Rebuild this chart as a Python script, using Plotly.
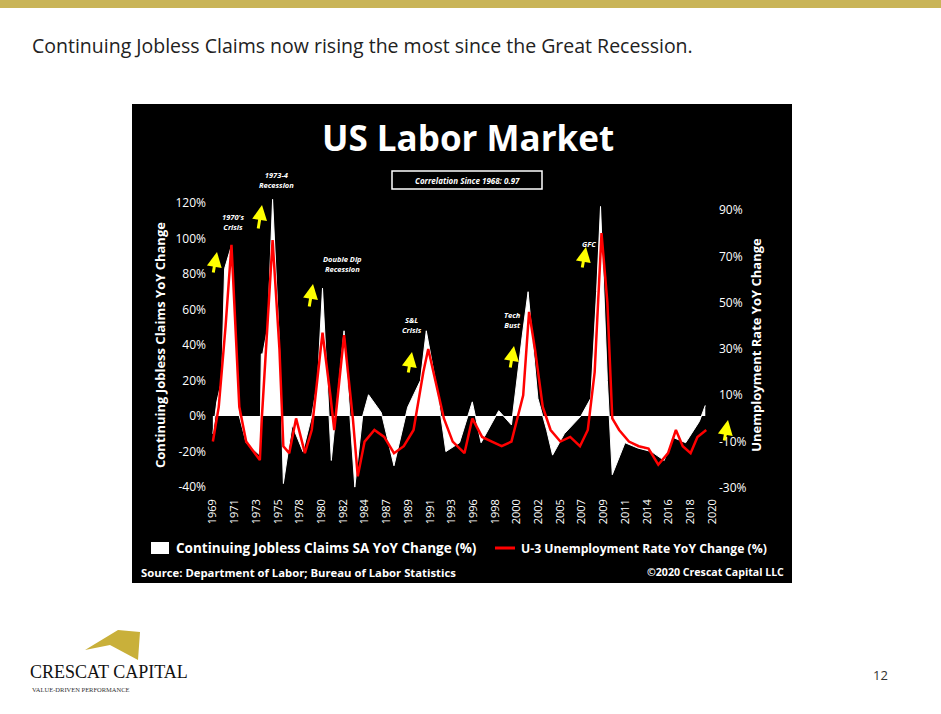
import plotly.graph_objects as go

W, H = 941, 714

# Continuing jobless claims SA YoY change (%), left axis
claims_t = [1969.0, 1969.4, 1969.9, 1970.2, 1970.9, 1971.7, 1972.4, 1973.0, 1973.8, 1973.95, 1974.1, 1974.6,
            1975.1, 1975.8, 1976.2, 1977.1, 1978.2, 1979.1, 1979.7, 1980.2, 1980.6, 1981.1, 1982.4, 1982.9,
            1983.5, 1984.3, 1984.9, 1986.2, 1987.5, 1988.9, 1990.2, 1990.8, 1991.9, 1992.8, 1994.2, 1995.5,
            1996.4, 1998.2, 1999.5, 2000.6, 2001.2, 2002.2, 2003.1, 2003.7, 2004.9, 2006.6, 2007.6, 2008.2,
            2008.6, 2009.3, 2009.8, 2011.1, 2012.4, 2013.8, 2015.1, 2016.0, 2017.3, 2018.7, 2019.3]
claims_v = [-10, 8, 20, 83, 96, 0, -15, -18, -22, 35, 35, 50,
            122, 40, -38, -5, -20, 0, 20, 72, 30, -25, 48, 10,
            -40, 0, 12, 2, -28, 5, 20, 48, 15, -20, -15, 8,
            -15, 3, -5, 45, 70, 10, -8, -22, -10, 0, 10, 70,
            118, 20, -33, -15, -18, -20, -25, -12, -15, -3, 6]

# U-3 unemployment rate YoY change (%), right axis
unemp_t = [1969.0, 1969.6, 1970.3, 1970.9, 1971.7, 1972.4, 1973.8, 1974.0, 1975.1, 1975.8, 1976.2, 1976.8,
           1977.5, 1978.4, 1979.1, 1980.2, 1981.0, 1981.4, 1982.4, 1983.3, 1983.8, 1984.5, 1985.5, 1986.5,
           1987.5, 1988.5, 1989.5, 1990.5, 1991.0, 1991.8, 1992.6, 1993.5, 1994.7, 1995.5, 1996.5, 1997.5,
           1998.5, 1999.5, 2000.7, 2001.3, 2001.9, 2002.7, 2003.5, 2004.5, 2005.5, 2006.5, 2007.3, 2008.0,
           2008.7, 2009.3, 2009.8, 2010.5, 2011.5, 2012.5, 2013.5, 2014.5, 2015.5, 2016.3, 2017.0, 2017.8,
           2018.5, 2019.4]
unemp_v = [-10, 5, 40, 75, 5, -10, -18, 0, 77, 30, -12, -15,
           0, -15, -5, 37, 10, -5, 36, 0, -25, -10, -5, -8,
           -15, -12, -5, 20, 30, 15, 0, -10, -15, 0, -8, -10,
           -12, -10, 10, 46, 30, 5, -5, -10, -8, -12, -5, 20,
           80, 50, 0, -5, -10, -12, -13, -20, -15, -5, -12, -15,
           -8, -5]

tick_text = ["1969", "1971", "1973", "1975", "1978", "1980", "1982", "1984", "1987", "1989", "1991", "1993",
             "1996", "1998", "2000", "2002", "2005", "2007", "2009", "2011", "2014", "2016", "2018", "2020"]
tick_vals = [1969 + i * 51 / 23 for i in range(len(tick_text))]

L, R, T, B = 207, 718, 194, 496


def px(x):
    return (x - L) / (R - L)


def py(y):
    return (B - y) / (B - T)


fig = go.Figure()
fig.add_trace(go.Scatter(x=claims_t, y=claims_v, mode="lines", fill="tozeroy",
                         line=dict(color="white", width=1), fillcolor="white",
                         name="Continuing Jobless Claims SA YoY Change (%)"))
fig.add_trace(go.Scatter(x=unemp_t, y=unemp_v, mode="lines", yaxis="y2",
                         line=dict(color="#ff0000", width=2.5),
                         name="U-3 Unemployment Rate YoY Change (%)"))

shapes = [
    dict(type="rect", xref="paper", yref="paper", x0=px(0), x1=px(W), y0=py(8), y1=py(0),
         fillcolor="#c9b458", line_width=0, layer="below"),
    dict(type="rect", xref="paper", yref="paper", x0=px(132), x1=px(792), y0=py(583), y1=py(104),
         fillcolor="black", line_width=0, layer="below"),
    dict(type="rect", xref="paper", yref="paper", x0=px(392), x1=px(542), y0=py(189), y1=py(171),
         line=dict(color="white", width=1.5)),
    dict(type="rect", xref="paper", yref="paper", x0=px(151), x1=px(169), y0=py(554), y1=py(542),
         fillcolor="white", line_width=0),
    dict(type="line", xref="paper", yref="paper", x0=px(495), x1=px(515), y0=py(548), y1=py(548),
         line=dict(color="#ff0000", width=3)),
    dict(type="path", xref="paper", yref="paper",
         path=f"M {px(85)},{py(650)} L {px(118)},{py(630)} L {px(140)},{py(632)} L {px(138)},{py(660)} L {px(110)},{py(645)} Z",
         fillcolor="#c9b03a", line_width=0),
]

ann = []


def txt(x, y, s, size=10, color="white", bold=False, italic=False, xa="center", family="Open Sans"):
    if bold:
        s = f"<b>{s}</b>"
    if italic:
        s = f"<i>{s}</i>"
    ann.append(dict(x=px(x), y=py(y), xref="paper", yref="paper", text=s, showarrow=False,
                    xanchor=xa, yanchor="middle", font=dict(size=size, color=color, family=family)))


txt(30, 45, "Continuing Jobless Claims now rising the most since the Great Recession.", 19.5, "#222", xa="left")
txt(468, 137, "US Labor Market", 35, bold=True)
txt(467, 180, "Correlation Since 1968: 0.97", 8, bold=True, italic=True)
for x, y, s in [(233, 222, "1970's<br>Crisis"), (276, 180, "1973-4<br>Recession"),
                (342, 264, "Double Dip<br>Recession"), (412, 325, "S&L<br>Crisis"),
                (512, 320, "Tech<br>Bust"), (589, 244, "GFC")]:
    txt(x, y, s, 7.5, bold=True, italic=True)
for x0, y0, x1, y1 in [(213, 274, 217, 252), (258, 230, 262, 205), (309, 308, 313, 284), (408, 374, 412, 352),
                       (510, 369, 514, 346), (582, 269, 586, 247), (724, 442, 728, 420)]:
    ann.append(dict(x=px(x1), y=py(y1), ax=x0 - x1, ay=y0 - y1, xref="paper", yref="paper",
                    axref="pixel", ayref="pixel", text="", showarrow=True, arrowhead=2,
                    arrowsize=1, arrowwidth=3, arrowcolor="#ffff00"))
txt(174, 548, "Continuing Jobless Claims SA YoY Change (%)", 13.5, bold=True, xa="left")
txt(519, 548, "U-3 Unemployment Rate YoY Change (%)", 12.2, bold=True, xa="left")
txt(139, 572, "Source: Department of Labor; Bureau of Labor Statistics", 11.3, bold=True, xa="left")
ann.append(dict(x=px(786), y=py(572), xref="paper", yref="paper", text="<b>©2020 Crescat Capital LLC</b>",
                showarrow=False, xanchor="right", yanchor="middle",
                font=dict(size=10.6, color="white", family="Open Sans")))
txt(28, 672, "CRESCAT CAPITAL", 18, "#111", xa="left", family="Liberation Serif")
txt(30, 689, "VALUE-DRIVEN PERFORMANCE", 6.5, "#333", xa="left", family="Liberation Serif")
txt(880, 675, "12", 13, "#333")

fig.update_layout(
    width=W, height=H, paper_bgcolor="white", plot_bgcolor="black", showlegend=False,
    margin=dict(l=L, r=W - R, t=T, b=H - B),
    shapes=shapes, annotations=ann,
    font=dict(family="Open Sans", color="white"),
    xaxis=dict(range=[1968.4, 2020.6], tickvals=tick_vals, ticktext=tick_text, tickangle=-90,
               showgrid=False, zeroline=False, tickfont=dict(size=11, color="white")),
    yaxis=dict(range=[-45, 125], tickvals=[-40, -20, 0, 20, 40, 60, 80, 100, 120],
               ticktext=[f"{v}%" for v in [-40, -20, 0, 20, 40, 60, 80, 100, 120]],
               showgrid=False, zeroline=False, tickfont=dict(size=12, color="white"),
               title=dict(text="<b>Continuing Jobless Claims YoY Change</b>", font=dict(size=13, color="white"),
                          standoff=6)),
    yaxis2=dict(range=[-33.5, 96.9], overlaying="y", side="right",
                tickvals=[-30, -10, 10, 30, 50, 70, 90],
                ticktext=[f"{v}%" for v in [-30, -10, 10, 30, 50, 70, 90]],
                showgrid=False, zeroline=False, tickfont=dict(size=12, color="white"),
                title=dict(text="<b>Unemployment Rate YoY Change</b>", font=dict(size=13, color="white"),
                           standoff=6)),
)

fig.write_html("out.html", config={"displayModeBar": False},
               post_script="document.body.style.margin='0';")
